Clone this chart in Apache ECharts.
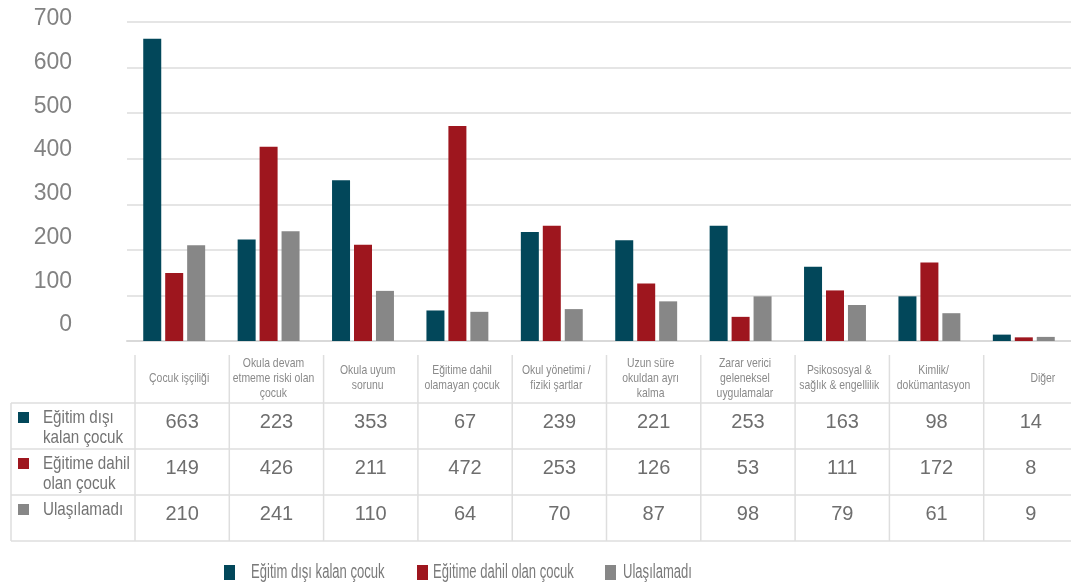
<!DOCTYPE html>
<html><head><meta charset="utf-8">
<script src="https://cdn.jsdelivr.net/npm/echarts@6/dist/echarts.min.js"></script>
<style>html,body{margin:0;padding:0;background:#fff}#c{width:1071px;height:588px}</style>
</head><body><div id="c"></div>
<script>
const categories = ["Çocuk işçiliği","Okula devam\netmeme riski olan\nçocuk","Okula uyum\nsorunu","Eğitime dahil\nolamayan çocuk","Okul yönetimi /\nfiziki şartlar","Uzun süre\nokuldan ayrı\nkalma","Zarar verici\ngeleneksel\nuygulamalar","Psikososyal &\nsağlık & engellilik","Kimlik/\ndokümantasyon","Diğer"];
const seriesNames = ["Eğitim dışı kalan çocuk","Eğitime dahil olan çocuk","Ulaşılamadı"];
const rowLabels = ["Eğitim dışı\nkalan çocuk","Eğitime dahil\nolan çocuk","Ulaşılamadı"];
const outOfSchool = [663,223,353,67,239,221,253,163,98,14];
const inSchool = [149,426,211,472,253,126,53,111,172,8];
const unreached = [210,241,110,64,70,87,98,79,61,9];
const yTicks = [0,100,200,300,400,500,600,700];
const colors = ["#02475a","#9e161e","#878787"];
const seriesData = [outOfSchool, inSchool, unreached];

const SANS = "'Liberation Sans',Arial,sans-serif";
const LINE = '#dedede';

// table layout
const tLeft = 11, cLeft = 135, colW = 94.3, hTop = 355, rowTops = [403,449,495], tBottom = 541, tRight = 1071;
const g = [];
function hline(x1,x2,y){g.push({type:'line',shape:{x1,y1:y,x2,y2:y},style:{stroke:LINE,lineWidth:1.5},silent:true});}
function vline(x,y1,y2){g.push({type:'line',shape:{x1:x,y1,x2:x,y2},style:{stroke:LINE,lineWidth:1.5},silent:true});}
rowTops.forEach(y=>hline(tLeft,tRight,y));
hline(tLeft,tRight,tBottom);
vline(tLeft,rowTops[0],tBottom);
for(let i=0;i<=categories.length;i++){ vline(cLeft+i*colW,hTop,tBottom); }
categories.forEach((c,i)=>{
  const cx = cLeft+(i+0.5)*colW + (i===categories.length-1?12:-3);
  g.push({type:'text',x:cx,y:378,scaleX:0.8,style:{text:c,font:"13px "+SANS,fill:'#8a8a8a',align:'center',verticalAlign:'middle',lineHeight:15},silent:true});
});
seriesData.forEach((arr,r)=>{
  const top = rowTops[r];
  g.push({type:'rect',shape:{x:18,y:top+9,width:11,height:11},style:{fill:colors[r]},silent:true});
  g.push({type:'text',x:43,y:top+5,scaleX:0.82,style:{text:rowLabels[r],font:"18.5px "+SANS,fill:'#747474',align:'left',verticalAlign:'top',lineHeight:20},silent:true});
  arr.forEach((v,i)=>{
    g.push({type:'text',x:cLeft+(i+0.5)*colW,y:top+19,style:{text:String(v),font:"20px "+SANS,fill:'#6e6e6e',align:'center',verticalAlign:'middle'},silent:true});
  });
});
// legend (condensed text drawn as graphic)
const legX = [224,417,605], legTextOff = [27,16,18];
seriesNames.forEach((n,i)=>{
  g.push({type:'rect',shape:{x:legX[i],y:565,width:11,height:15},style:{fill:colors[i]},silent:true});
  g.push({type:'text',x:legX[i]+legTextOff[i],y:573,scaleX:0.67,style:{text:n,font:"19.5px "+SANS,fill:'#7a7a7a',align:'left',verticalAlign:'middle'},silent:true});
});

const chart = echarts.init(document.getElementById('c'));
chart.setOption({
  animation:false,
  backgroundColor:'#fff',
  grid:[
    {left:127,right:0,top:22,height:319,containLabel:false},
    {left:80,width:1,top:19,height:306,containLabel:false}
  ],
  xAxis:[
    {type:'category',gridIndex:0,data:categories,axisLine:{lineStyle:{color:'#d9d9d9',width:2}},axisTick:{show:false},axisLabel:{show:false}},
    {type:'value',gridIndex:1,show:false}
  ],
  yAxis:[
    {type:'value',gridIndex:0,min:0,max:700,interval:100,axisLabel:{show:false},axisLine:{show:false},axisTick:{show:false},splitLine:{lineStyle:{color:'#dcdcdc',width:1.5}}},
    {type:'value',gridIndex:1,min:yTicks[0],max:yTicks[yTicks.length-1],interval:100,axisLine:{show:false},axisTick:{show:false},splitLine:{show:false},
     axisLabel:{margin:8,color:'#828282',fontSize:23,fontFamily:SANS}}
  ],
  legend:{show:false,data:seriesNames},
  series: seriesData.map((d,i)=>({name:seriesNames[i],type:'bar',xAxisIndex:0,yAxisIndex:0,data:d,barWidth:18,barGap:'22%',itemStyle:{color:colors[i]}})),
  graphic: g
});
</script></body></html>
